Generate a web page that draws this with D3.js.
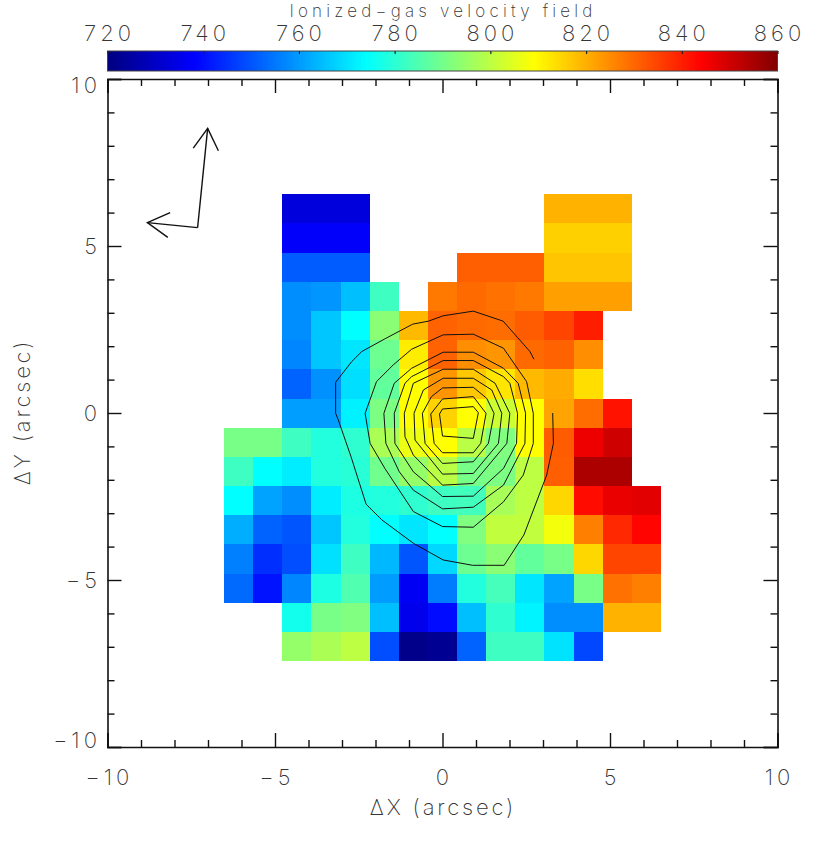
<!DOCTYPE html>
<html lang="en">
<head>
    <meta charset="UTF-8">
    <title>Ionized-gas velocity field</title>
    <script src="https://d3js.org/d3.v7.min.js"></script>
    <style>
        body { margin: 0; background: #fff; }
        text { font-family: Inter, "Noto Sans", sans-serif; font-weight: 200; fill: #333; opacity: 0.99; }
    </style>
</head>
<body>
    <div id="graph-div"></div>
    <script>
        // velocity per spaxel, rows top to bottom, columns left to right, null = no data
        const _ = null;
        const velocity = [
            [_, _, 733, 733, 733, _, _, _, _, _, _, 819.5, 819.5, 819.5, _],
            [_, _, 737.5, 737.5, 737.5, _, _, _, _, _, _, 815.5, 815.5, 815.5, _],
            [_, _, 751, 751, 751, _, _, _, 831, 831, 831, 817, 817, 817, _],
            [_, _, 758, 759, 765, 782.5, _, 827.5, 829.5, 828.5, 827.5, 822, 822, 822, _],
            [_, _, 758, 766, 774, 793, 818.5, 830.5, 829.5, 829, 831.5, 834.5, 840, _, _],
            [_, _, 757, 766, 770.5, 789, 811.5, 830.5, 824.5, 823.5, 829.5, 830.5, 824.5, _, _],
            [_, _, 752, 758.5, 769.5, 787.5, 809, 823.5, 816.5, 812.5, 818.5, 820.5, 813.5, _, _],
            [_, _, 760.5, 760.5, 772, 791, 809, 815, 809, 802, 809, 821.5, 829, 841.5, _],
            [790.5, 790.5, 782.5, 778.5, 780.5, 797.5, 806.5, 809, 799.5, 791.5, 809, 831.5, 846, 850, _],
            [782.5, 774, 771.5, 778.5, 779.5, 789.5, 794.5, 799.5, 790.5, 791, 800, 831, 854.5, 854.5, _],
            [774, 761, 758, 771.5, 778, 778.5, 780.5, 782.5, 783, 797, 800, 814.5, 842.5, 846.5, 847.5],
            [762.5, 752, 750, 766, 778.5, 774, 770.5, 774, 791.5, 800.5, 800.5, 807.5, 826.5, 838.5, 843.5],
            [756, 744.5, 749, 769.8, 782.5, 764, 750, 768.5, 789, 793, 787.5, 790.5, 814.5, 834.5, 834.5],
            [753, 740.5, 757, 778, 785, 760, 736.5, 755.5, 778.5, 783.5, 770.5, 761, 790.5, 828.5, 826.5],
            [_, _, 776.5, 790.5, 791.5, 765, 735.5, 739.5, 765, 780.5, 772.5, 758, 758, 819.5, 819.5],
            [_, _, 794.5, 797.5, 800, 749, 721.5, 722.5, 752, 782.5, 782.5, 770, 748, _, _]
        ];

        // continuum contours in arcsec, outermost first. the first one stays open
        const contourOpen = [[2.73,1.61],[2.61,1.84],[1.81,2.75],[.92,3.05],[.02,2.91],[-.42,2.75],[-.89,2.66],[-1.72,2.22],[-2.41,1.84],[-2.71,1.54],[-3.19,.92],[-3.19,-.01],[-3.11,-.21],[-2.73,-1.31],[-2.28,-2.73],[-1.81,-3.2],[-.87,-3.9],[.02,-4.4],[.9,-4.56],[1.84,-4.56],[2.43,-3.65],[3.11,-1.86],[3.31,-.91],[3.29,0]];
        const contoursClosed = [
            [[-2.31,-.01],[-1.97,.94],[-1.47,1.44],[-.92,1.91],[.02,2.34],[.92,2.36],[1.82,1.94],[2.51,.94],[2.71,-.01],[2.71,-.91],[2.41,-1.86],[1.82,-2.66],[.92,-3.42],[0,-3.4],[-.87,-2.95],[-1.72,-1.66],[-2.16,-.91]],
            [[-1.75,-.01],[-1.44,.89],[-.92,1.34],[.02,1.82],[.92,1.82],[1.82,1.34],[2.26,.89],[2.48,-.01],[2.46,-.91],[1.82,-2.16],[.92,-2.82],[0,-2.87],[-.87,-2.31],[-1.29,-1.76],[-1.69,-.91]],
            [[-1.44,-.01],[-1.12,.89],[-.92,1.09],[.02,1.57],[.92,1.57],[1.82,1.09],[2.01,.89],[2.24,-.01],[2.21,-.91],[1.82,-1.66],[.92,-2.49],[0,-2.5],[-.87,-1.76],[-1.42,-.91]],
            [[-1.14,-.01],[-.87,.89],[.02,1.31],[.92,1.31],[1.57,.89],[2.01,-.01],[1.92,-.91],[.92,-2.11],[0,-2.16],[-.87,-1.26],[-1.12,-.71]],
            [[-.85,-.01],[-.57,.69],[.02,1.04],[.92,1.04],[1.47,.69],[1.77,-.01],[1.67,-.91],[.92,-1.81],[0,-1.83],[-.82,-.81]],
            [[-.6,-.01],[-.33,.49],[0,.75],[.92,.77],[1.32,.44],[1.54,-.01],[1.37,-.91],[.92,-1.46],[0,-1.51],[-.52,-.91]],
            [[-.35,-.03],[0,.42],[.92,.49],[1.3,-.01],[1.14,-.91],[.92,-1.19],[0,-1.19],[-.25,-.91]],
            [[-.09,-.03],[0,.12],[.92,.19],[1.07,.01],[.92,-.76],[0,-.69]]
        ];

        // north and east arrows, arcsec
        const arrowNorth = [[-7.31,5.55],[-7.01,8.52]];
        const barbNorth = [[-7.44,7.93],[-7.01,8.52],[-6.69,7.85]];
        const arrowEast = [[-7.31,5.55],[-8.81,5.7]];
        const barbEast = [[-8.13,6.0],[-8.81,5.7],[-8.2,5.26]];

        const axisMajor = [-10, -5, 0, 5, 10];
        const axisMinor = d3.range(-10, 11).filter(d => d % 5 !== 0);
        const barTicks = [720, 740, 760, 780, 800, 820, 840, 860];
        const colorStops = [720, 738, 774, 809, 844, 860];
        const colorRange = ["#000080", "#0000ff", "#00ffff", "#ffff00", "#ff0000", "#800000"];

        const w = 830;
        const h = 849;
        const plotL = 107.5, plotR = 777.5, plotT = 79, plotB = 747;

        const xScale = d3.scaleLinear().domain([-10, 10]).range([plotL, plotR]);
        const yScale = d3.scaleLinear().domain([-10, 10]).range([plotB, plotT]);
        const vScale = d3.scaleLinear().domain([720, 860]).range([plotL, plotR]);
        const color = d3.scaleLinear().domain(colorStops).range(colorRange);

        const colBand = d3.scaleBand().domain(d3.range(15)).range([xScale(-6.52), xScale(6.52)]);
        const rowBand = d3.scaleBand().domain(d3.range(16)).range([yScale(6.55), yScale(-7.43)]);

        const svg = d3.select("#graph-div").append("svg")
            .attr("width", w)
            .attr("height", h)
            .style("display", "block");

        //cells
        velocity.forEach((row, r) => {
            svg.append("g").selectAll("rect")
                .data(row.map((v, c) => ({ v: v, c: c })).filter(d => d.v !== null))
                .enter()
                .append("rect")
                .attr("x", d => colBand(d.c))
                .attr("y", rowBand(r))
                .attr("width", colBand.bandwidth() + 0.3)
                .attr("height", rowBand.bandwidth() + 0.3)
                .attr("shape-rendering", "crispEdges")
                .attr("fill", d => color(d.v));
        });

        //contours
        const line = d3.line().x(d => xScale(d[0])).y(d => yScale(d[1]));
        const lineClosed = d3.line().x(d => xScale(d[0])).y(d => yScale(d[1])).curve(d3.curveLinearClosed);
        const black = { fill: "none", stroke: "#111", "stroke-width": 1 };

        function styled(sel) {
            Object.keys(black).forEach(k => sel.attr(k, black[k]));
            return sel;
        }

        styled(svg.append("path").attr("d", line(contourOpen)));
        contoursClosed.forEach(c => styled(svg.append("path").attr("d", lineClosed(c))));

        //arrows
        [arrowNorth, barbNorth, arrowEast, barbEast].forEach(a => {
            styled(svg.append("path").attr("d", line(a))).attr("stroke-width", 1.4);
        });

        //axes, d3 ticks point inward on all four sides
        function frameAxis(axisFn, scale, transform, size) {
            svg.append("g")
                .attr("transform", transform)
                .call(axisFn(scale).tickValues(axisMajor).tickSize(-size * 2).tickFormat(""))
                .call(g => g.select(".domain").attr("stroke", "#111").attr("stroke-width", 1.6));
            svg.append("g")
                .attr("transform", transform)
                .call(axisFn(scale).tickValues(axisMinor).tickSize(-size).tickFormat(""))
                .call(g => g.select(".domain").remove());
        }
        frameAxis(d3.axisBottom, xScale, "translate(0," + plotB + ")", 7);
        frameAxis(d3.axisTop, xScale, "translate(0," + plotT + ")", 7);
        frameAxis(d3.axisLeft, yScale, "translate(" + plotL + ",0)", 7);
        frameAxis(d3.axisRight, yScale, "translate(" + plotR + ",0)", 7);
        svg.selectAll(".tick line").attr("stroke", "#111").attr("stroke-width", 1.4);

        const fmt = d => (d < 0 ? "\u2212" : "") + Math.abs(d);

        // tick labels
        svg.append("g").selectAll("text")
            .data(axisMajor)
            .enter()
            .append("text")
            .text(fmt)
            .attr("x", d => xScale(d) + 2)
            .attr("y", 785)
            .attr("text-anchor", "middle")
            .attr("font-size", 22)
            .attr("letter-spacing", 4);

        svg.append("g").selectAll("text")
            .data(axisMajor)
            .enter()
            .append("text")
            .text(fmt)
            .attr("x", 101)
            .attr("y", d => yScale(d) + 8 + (d === 10 ? 6 : d === -10 ? -7 : 0))
            .attr("text-anchor", "end")
            .attr("font-size", 22)
            .attr("letter-spacing", 4);

        svg.append("text")
            .text("\u0394X (arcsec)")
            .attr("x", 443)
            .attr("y", 815)
            .attr("text-anchor", "middle")
            .attr("font-size", 22)
            .attr("letter-spacing", 2.8);

        svg.append("text")
            .text("\u0394Y (arcsec)")
            .attr("transform", "translate(30,412) rotate(-90)")
            .attr("text-anchor", "middle")
            .attr("font-size", 22)
            .attr("letter-spacing", 2.8);

        //colour bar
        const barTop = 51, barH = 20;
        svg.append("g").selectAll("rect")
            .data(d3.range(720, 860, 0.25))
            .enter()
            .append("rect")
            .attr("x", d => vScale(d))
            .attr("y", barTop)
            .attr("width", vScale(720.25) - vScale(720) + 0.3)
            .attr("height", barH)
            .attr("shape-rendering", "crispEdges")
            .attr("fill", d => color(d));

        svg.append("rect")
            .attr("x", plotL)
            .attr("y", barTop)
            .attr("width", plotR - plotL)
            .attr("height", barH)
            .attr("fill", "none")
            .attr("stroke", "#444")
            .attr("stroke-width", 1);

        svg.append("g")
            .attr("transform", "translate(0," + barTop + ")")
            .call(d3.axisTop(vScale).tickValues(barTicks).tickSize(-3).tickFormat(""))
            .call(g => g.select(".domain").remove())
            .call(g => g.selectAll(".tick line").attr("stroke", "#222").attr("stroke-width", 1.2));

        svg.append("g").selectAll("text")
            .data(barTicks)
            .enter()
            .append("text")
            .text(d => d)
            .attr("x", d => vScale(d) + 2)
            .attr("y", 40.5)
            .attr("text-anchor", "middle")
            .attr("font-size", 22)
            .attr("letter-spacing", 4);

        svg.append("text")
            .text("Ionized\u2212gas velocity field")
            .attr("x", 443)
            .attr("y", 16.5)
            .attr("text-anchor", "middle")
            .attr("font-size", 17)
            .attr("letter-spacing", 4.2);
    </script>
</body>
</html>
